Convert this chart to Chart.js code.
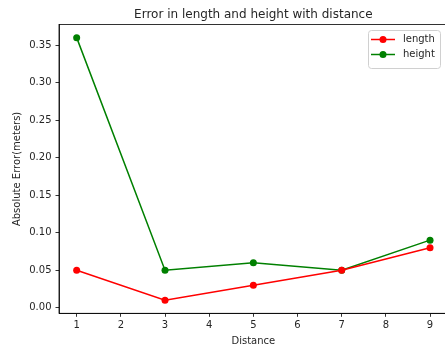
<!DOCTYPE html>
<html>
<head>
<meta charset="utf-8">
<script src="https://cdn.jsdelivr.net/npm/chart.js@4.4.1/dist/chart.umd.min.js"></script>
<style>
html,body{margin:0;padding:0;background:#fff;overflow:hidden;width:445px;height:352px;}
#wrap{width:445px;height:352px;position:relative;overflow:hidden;}
#c{position:absolute;left:0;top:0;}
</style>
</head>
<body>
<div id="wrap"><canvas id="c" width="448" height="352"></canvas></div>
<script>
const distances = [1, 3, 5, 7, 9];
const lengthErr = [0.05, 0.01, 0.03, 0.05, 0.08];
const heightErr = [0.36, 0.05, 0.06, 0.05, 0.09];
const xTicks = [1, 2, 3, 4, 5, 6, 7, 8, 9];
const yTicks = [0.00, 0.05, 0.10, 0.15, 0.20, 0.25, 0.30, 0.35];
const titleText = 'Error in length and height with distance';
const xLabel = 'Distance';
const yLabel = 'Absolute Error(meters)';
const seriesNames = ['length', 'height'];
const seriesColors = ['#ff0000', '#008000'];

const FONT = "'DejaVu Sans', sans-serif";
const TXT = '#262626';

const toPts = (ys) => distances.map((x, i) => ({x: x, y: ys[i]}));

const framePlugin = {
  id: 'frame',
  afterDraw(chart) {
    const ctx = chart.ctx, a = chart.chartArea;
    ctx.save();
    ctx.strokeStyle = '#000';
    ctx.lineWidth = 0.8;
    ctx.strokeRect(a.left, a.top, a.right - a.left, a.bottom - a.top);
    // title
    ctx.fillStyle = TXT;
    ctx.font = '12px ' + FONT;
    ctx.textAlign = 'center';
    ctx.textBaseline = 'alphabetic';
    ctx.fillText(titleText, (a.left + a.right) / 2, 18);
    // legend
    const bx = 368.5, by = 30.5, bw = 72, bh = 38;
    ctx.fillStyle = 'rgba(255,255,255,0.8)';
    ctx.strokeStyle = '#d0d0d0';
    ctx.lineWidth = 1;
    ctx.beginPath();
    if (ctx.roundRect) ctx.roundRect(bx, by, bw, bh, 3); else ctx.rect(bx, by, bw, bh);
    ctx.fill();
    ctx.stroke();
    ctx.font = '10px ' + FONT;
    ctx.textAlign = 'left';
    ctx.textBaseline = 'middle';
    seriesNames.forEach((name, i) => {
      const y = 39.5 + i * 15;
      ctx.strokeStyle = seriesColors[i];
      ctx.lineWidth = 1.5;
      ctx.beginPath();
      ctx.moveTo(371, y);
      ctx.lineTo(395, y);
      ctx.stroke();
      ctx.fillStyle = seriesColors[i];
      ctx.beginPath();
      ctx.arc(383, y, 3.5, 0, Math.PI * 2);
      ctx.fill();
      ctx.fillStyle = TXT;
      ctx.fillText(name, 403, y);
    });
    ctx.restore();
  }
};

new Chart(document.getElementById('c'), {
  type: 'line',
  data: {
    datasets: [
      {label: seriesNames[0], data: toPts(lengthErr), borderColor: seriesColors[0], backgroundColor: seriesColors[0],
       borderWidth: 1.5, pointRadius: 3.5, pointBorderWidth: 0, pointHoverRadius: 3.5, tension: 0, fill: false},
      {label: seriesNames[1], data: toPts(heightErr), borderColor: seriesColors[1], backgroundColor: seriesColors[1],
       borderWidth: 1.5, pointRadius: 3.5, pointBorderWidth: 0, pointHoverRadius: 3.5, tension: 0, fill: false}
    ]
  },
  options: {
    responsive: false,
    animation: false,
    layout: {autoPadding: false, padding: {top: 24.5, right: 0.3, left: 0, bottom: 0}},
    plugins: {legend: {display: false}, title: {display: false}, tooltip: {enabled: false}},
    scales: {
      x: {
        type: 'linear', min: 0.6, max: 9.4,
        afterBuildTicks: (s) => { s.ticks = xTicks.map(v => ({value: v})); },
        afterFit: (s) => { s.height = 38.7; s.paddingLeft = 0; s.paddingRight = 0; },
        grid: {drawOnChartArea: false, drawTicks: true, tickLength: 3.5, tickColor: '#000', tickWidth: 0.8},
        border: {display: true, color: '#000', width: 0.8},
        ticks: {color: TXT, font: {family: FONT, size: 10}, padding: 3, maxRotation: 0, autoSkip: false,
                callback: (v) => String(v)},
        title: {display: true, text: xLabel, color: TXT, font: {family: FONT, size: 10}, padding: {top: 0, bottom: 5}}
      },
      y: {
        type: 'linear', min: -0.0075, max: 0.3775,
        afterBuildTicks: (s) => { s.ticks = yTicks.map(v => ({value: v})); },
        afterFit: (s) => { s.width = 59; s.paddingTop = 0; s.paddingBottom = 0; },
        grid: {drawOnChartArea: false, drawTicks: true, tickLength: 3.5, tickColor: '#000', tickWidth: 0.8},
        border: {display: true, color: '#000', width: 0.8},
        ticks: {color: TXT, font: {family: FONT, size: 10}, padding: 4, autoSkip: false,
                callback: (v) => Number(v).toFixed(2)},
        title: {display: true, text: yLabel, color: TXT, font: {family: FONT, size: 10}, padding: {top: 11, bottom: 0}}
      }
    }
  },
  plugins: [framePlugin]
});
</script>
</body>
</html>
